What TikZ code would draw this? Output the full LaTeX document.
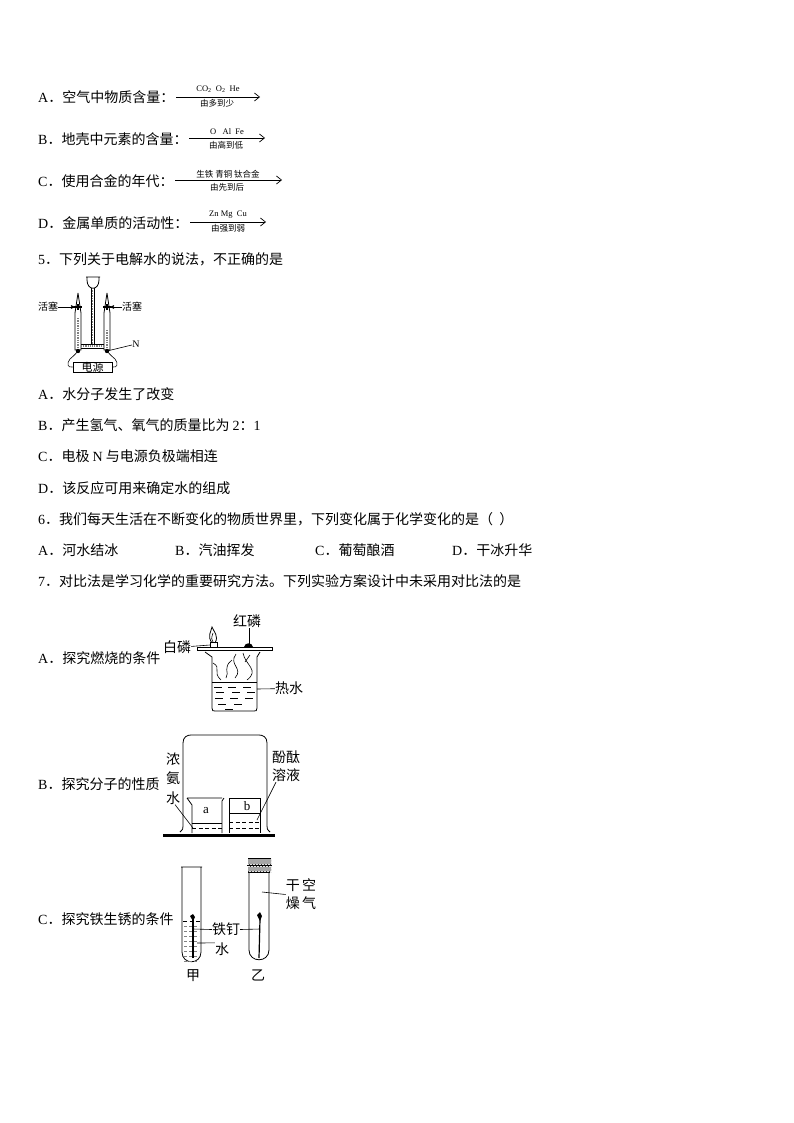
\documentclass[tikz,border=0pt]{standalone}
\usepackage{fontspec}
\setmainfont{Liberation Serif}
\newfontfamily\cjk{Noto Sans CJK SC}
\usetikzlibrary{arrows,arrows.meta,patterns,positioning}
\newcommand{\lat}[1]{{\rmfamily #1}}
\tikzset{
  stem/.style = {anchor=west, inner sep=0pt, text height=13.5pt, text depth=0.5pt,
    font=\fontsize{14}{16}\cjk},% question text
  lab/.style = {inner sep=0pt, align=center, yshift=-1.5pt, font=\fontsize{14}{18}\cjk},% picture label
  tiny_top/.style = {inner sep=0pt, font=\fontsize{8.5}{9}\rmfamily},
  tiny_cjk/.style = {inner sep=0pt, font=\fontsize{8.5}{9}\cjk},
  small_cjk/.style = {inner sep=0pt, font=\fontsize{10}{11}\cjk},
  order/.style = {-{Straight Barb[length=5pt,width=8pt]}, line width=0.7pt},
  glass/.style = {line width=0.8pt},
  leader/.style = {line width=0.6pt},
  liquid/.style = {line width=0.6pt, dashed, dash pattern=on 4pt off 2.5pt}
}
\begin{document}
\begin{tikzpicture}[x=1pt,y=-1pt]
\useasboundingbox (0,0) rectangle (794,1123);
\fill[white] (0,0) rectangle (794,1123);

% option lines
\node [stem] (qa) at (38,96) {\lat{A}．空气中物质含量：};
\node [stem] (qb) at (38,138) {\lat{B}．地壳中元素的含量：};
\node [stem] (qc) at (38,180) {\lat{C}．使用合金的年代：};
\node [stem] (qd) at (38,222) {\lat{D}．金属单质的活动性：};
\node [stem] (q5) at (38,258) {\lat{5}．下列关于电解水的说法，不正确的是};
\node [stem] (q5a) at (38,393) {\lat{A}．水分子发生了改变};
\node [stem] (q5b) at (38,424) {\lat{B}．产生氢气、氧气的质量比为 \lat{2}：\lat{1}};
\node [stem] (q5c) at (38,455) {\lat{C}．电极 \lat{N} 与电源负极端相连};
\node [stem] (q5d) at (38,487) {\lat{D}．该反应可用来确定水的组成};
\node [stem] (q6) at (38,518) {\lat{6}．我们每天生活在不断变化的物质世界里，下列变化属于化学变化的是（\ \ ）};
\node [stem] (q6a) at (38,549) {\lat{A}．河水结冰};
\node [stem] (q6b) at (175,549) {\lat{B}．汽油挥发};
\node [stem] (q6c) at (315,549) {\lat{C}．葡萄酿酒};
\node [stem] (q6d) at (452,549) {\lat{D}．干冰升华};
\node [stem] (q7) at (38,580) {\lat{7}．对比法是学习化学的重要研究方法。下列实验方案设计中未采用对比法的是};
\node [stem] (q7a) at (38,657) {\lat{A}．探究燃烧的条件};
\node [stem] (q7b) at (38,783) {\lat{B}．探究分子的性质};
\node [stem] (q7c) at (38,918) {\lat{C}．探究铁生锈的条件};

% order arrows
\coordinate (a1) at (176,97); \coordinate (a2) at (260,97);
\coordinate (b1) at (189,138); \coordinate (b2) at (265,138);
\coordinate (c1) at (175,180); \coordinate (c2) at (282,180);
\coordinate (d1) at (190,222); \coordinate (d2) at (266,222);
\draw [order] (a1) -- (a2);
\draw [order] (b1) -- (b2);
\draw [order] (c1) -- (c2);
\draw [order] (d1) -- (d2);
\node [tiny_top] (at) at (218,89) {CO\textsubscript{2}\ \ O\textsubscript{2}\ \ He};
\node [tiny_cjk] (ab) at (217,103) {由多到少};
\node [tiny_top] (bt) at (227,132) {O\ \ \ Al\ \ Fe};
\node [tiny_cjk] (bb) at (226,145) {由高到低};
\node [tiny_cjk] (ct) at (228,174) {生铁\ 青铜\ 钛合金};
\node [tiny_cjk] (cb) at (227,187) {由先到后};
\node [tiny_top] (dt) at (228,215) {Zn\ Mg\ \ Cu};
\node [tiny_cjk] (db) at (228,228) {由强到弱};

% electrolysis
\draw [glass] (86,277) -- (100,277) (87,277) -- (87,280) .. controls (87,291) and (99,291) .. (99,280) -- (99,277);
\draw [glass] (91,288) -- (91,344) (94,288) -- (94,344);
\draw [glass] (78,293) -- (75,313) -- (75,350) -- (81,350) -- (81,313) -- (78,293);
\draw [glass] (107,293) -- (104,313) -- (104,350) -- (110,350) -- (110,313) -- (107,293);
\draw [glass] (81,344) -- (104,344) (81,348) -- (104,348);
\draw [line width=1.6pt, densely dotted, gray] (92.5,290) -- (92.5,344);
\draw [line width=1.4pt, densely dotted, gray] (78,318) -- (78,349);
\draw [line width=1.4pt, densely dotted, gray] (107,330) -- (107,349);
\draw [line width=1.2pt, densely dotted, gray] (81,346) -- (104,346);
\draw [line width=1.4pt] (74,307) -- (82,307) (103,307) -- (111,307) (78,304) -- (78,310) (107,304) -- (107,310);
\fill (78,351) circle (2.2pt) (107,351) circle (2.2pt);
\node [draw, line width=0.8pt, minimum width=39pt, minimum height=10pt, inner sep=0pt,
  font=\fontsize{11}{12}\cjk] (power) at (92.5,367) {电源};
\node [small_cjk] (plug1) at (48,307) {活塞};
\node [small_cjk] (plug2) at (132,307) {活塞};
\node [inner sep=0pt, font=\fontsize{10}{11}\rmfamily] (nlab) at (136,344) {N};
\coordinate (lcock) at (75,307); \coordinate (rcock) at (110,307); \coordinate (elec) at (107,351);
\draw [->,>=stealth', leader] (plug1) -- (lcock);
\draw [->,>=stealth', leader] (plug2) -- (rcock);
\draw [leader] (nlab) -- (elec);
\draw [leader] (78,351) .. controls (74,356) and (72,357) .. (70,359) .. controls (66,364) and (68,368) .. (power.west);
\draw [leader] (107,351) .. controls (111,356) and (113,357) .. (115,359) .. controls (119,364) and (117,368) .. (power.east);

% burning
\draw [glass] (197,647) rectangle (272,650);
\draw [glass] (205,652) -- (212,657) -- (212,708) .. controls (212,711) and (213,711) .. (215,711)
  -- (254,711) .. controls (256,711) and (257,711) .. (257,708) -- (257,657) -- (260,652);
\draw [glass] (212,682) -- (257,682);
\foreach \lx/\ly in {214/687,228/687,243/687,216/692,232/692,247/692,215/698,230/698,245/698,218/704,234/704,225/709}
  \draw [leader] (\lx,\ly) -- ++(8,0);
\draw [leader] (213,663) .. controls (222,668) and (212,672) .. (221,680);
\draw [leader] (232,660) .. controls (222,668) and (230,672) .. (226,678);
\draw [leader] (236,654) .. controls (228,665) and (244,668) .. (235,678);
\draw [leader] (243,653) .. controls (245,665) and (260,670) .. (247,680);
\draw [leader] (250,655) -- (245,662);
\draw [glass] (210,642) rectangle (217,647);
\draw [glass] (212,643) .. controls (207,636) and (211,632) .. (212,627) .. controls (214,632) and (219,636) .. (215,643);
\draw [leader] (213,642) .. controls (210,637) and (213,636) .. (213,633);
\fill (244,647) .. controls (245,642) and (252,642) .. (253,647) -- cycle;
\node [lab] (redp) at (247,620) {红磷};
\node [lab] (whitep) at (177,646) {白磷};
\node [lab] (hotw) at (289,687) {热水};
\coordinate (redtop) at (249,645); \coordinate (whitecup) at (210,645); \coordinate (wside) at (257,689);
\draw [leader] (redtop |- redp.south) -- (redtop);
\draw [leader] (whitep) -- (whitecup);
\draw [leader] (hotw) -- (wside);

% bell jar
\draw [line width=0.8pt] (180,832) .. controls (183,829) and (183,829) .. (183,826) -- (183,743)
  .. controls (183,737) and (187,735) .. (191,735) -- (259,735)
  .. controls (263,735) and (267,737) .. (267,743) -- (267,826) .. controls (267,829) and (267,829) .. (270,832);
\draw [line width=3pt] (163,835) -- (275,835);
\draw [glass] (187,798) -- (222,798) (187,798) -- (192,805) -- (192,833) (224,798) -- (222,801) -- (222,833);
\draw [glass] (229,833) -- (229,798) -- (260,798) -- (260,833);
\draw [glass] (192,823) -- (222,823) (229,813) -- (260,813);
\draw [liquid] (192,828) -- (222,828) (229,822) -- (260,822) (229,828) -- (260,828);
\node [inner sep=0pt, font=\fontsize{13}{14}\rmfamily] (bka) at (206,811) {a};
\node [inner sep=0pt, font=\fontsize{13}{14}\rmfamily] (bkb) at (247,806) {b};
\node [lab, font=\fontsize{14}{19.5}\cjk] (ammonia) at (173,777) {浓\\氨\\水};
\node [lab] (phenol) at (286,765) {酚酞\\溶液};
\coordinate (alevel) at (193,828); \coordinate (blevel) at (257,820);
\draw [leader] (ammonia.south) ++(2,0) -- (alevel);
\draw [leader] (phenol.south) ++(-10,0) -- (blevel);

% test tubes
\draw [glass] (181,867) -- (202,867) (182,867) -- (182,952) .. controls (182,965) and (201,965) .. (201,952) -- (201,867);
\draw [glass] (249,872) -- (249,950) .. controls (249,963) and (269,963) .. (269,950) -- (269,872);
\fill [pattern=north east lines] (248,858) rectangle (271,872);
\fill [gray!70] (248,859) rectangle (271,864) (248,867) rectangle (271,871);
\draw [line width=1pt] (248,858) -- (271,858) (247,865.5) -- (272,865.5) (248,872) -- (270,872);
\draw [liquid, line width=0.5pt] (183,921) -- (200,921);
\foreach \ly in {926,931,...,961}
  \draw [line width=0.4pt, densely dashed, gray] (184,\ly) -- (199,\ly);
\draw [line width=1.2pt] (193,958) -- (193,919);
\fill (193,921) -- (190,916) -- (193,914) -- (195,917) -- cycle;
\draw [line width=1.2pt] (259,958) -- (260,919);
\fill (260,921) -- (257,915) -- (260,912) -- (262,916) -- cycle;
\node [lab] (nail) at (226,928) {铁钉};
\node [lab] (water) at (222,948) {水};
\node [lab] (dryair) at (301,893) {干\,空\\燥\,气};
\node [lab] (jia) at (193,974) {甲};
\node [lab] (yi) at (258,974) {乙};
\coordinate (nail1) at (193,929); \coordinate (nail2) at (260,929);
\coordinate (wet) at (197,943); \coordinate (air) at (262,892);
\draw [leader] (nail.west) -- (nail1);
\draw [leader] (nail.east) -- (nail2);
\draw [leader] (water.north west) -- (wet);
\draw [leader] (dryair.west) -- (air);
\end{tikzpicture}
\end{document}
